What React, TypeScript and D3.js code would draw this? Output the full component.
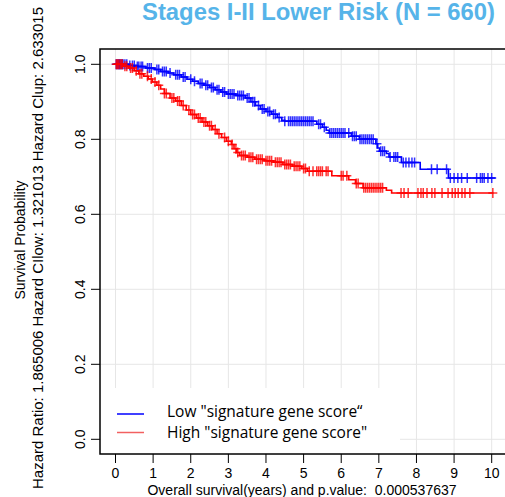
import * as d3 from "d3";

// Kaplan-Meier steps: time (years) and survival after the step
const lowTimes = [0, 0.35, 0.55, 0.8, 1.05, 1.2, 1.4, 1.55, 1.75, 1.9, 2.05, 2.2, 2.35, 2.5, 2.65, 2.8, 2.95, 3.2, 3.45, 3.6, 3.72, 3.85, 4.0, 4.15, 4.3, 4.42, 4.5, 5.35, 5.5, 5.6, 5.68, 6.27, 6.48, 6.92, 6.97, 7.02, 7.2, 7.27, 7.6, 8.1, 8.85];
const lowSurv = [1.0, 0.997, 0.994, 0.99, 0.986, 0.981, 0.977, 0.972, 0.966, 0.96, 0.955, 0.949, 0.944, 0.938, 0.932, 0.926, 0.921, 0.917, 0.91, 0.9, 0.89, 0.881, 0.874, 0.867, 0.858, 0.851, 0.848, 0.84, 0.832, 0.824, 0.817, 0.808, 0.8, 0.788, 0.777, 0.768, 0.762, 0.753, 0.738, 0.72, 0.697];
const lowEnd = 10.1;
const lowCensor = [0.02, 0.05, 0.08, 0.1, 0.12, 0.15, 0.18, 0.2, 0.25, 0.3, 0.38, 0.45, 0.5, 0.58, 0.62, 0.68, 0.72, 0.85, 0.9, 0.95, 1.1, 1.15, 1.25, 1.3, 1.35, 1.45, 1.6, 1.65, 1.7, 1.8, 1.85, 2.0, 2.1, 2.25, 2.3, 2.4, 2.45, 2.55, 2.6, 2.7, 2.75, 2.85, 2.9, 3.0, 3.05, 3.1, 3.15, 3.25, 3.3, 3.35, 3.4, 3.5, 3.55, 3.65, 3.7, 3.8, 3.9, 3.95, 4.05, 4.1, 4.2, 4.25, 4.35, 4.5, 4.6, 4.65, 4.7, 4.75, 4.8, 4.85, 4.9, 4.95, 5.0, 5.05, 5.1, 5.15, 5.2, 5.25, 5.4, 5.45, 5.55, 5.7, 5.75, 5.8, 5.85, 5.9, 5.95, 6.0, 6.05, 6.1, 6.2, 6.3, 6.35, 6.4, 6.5, 6.55, 6.6, 6.65, 6.7, 6.75, 6.8, 6.85, 6.95, 7.05, 7.1, 7.15, 7.3, 7.4, 7.45, 7.5, 7.65, 7.72, 7.8, 7.88, 7.95, 8.4, 8.55, 8.8, 8.9, 9.0, 9.1, 9.2, 9.35, 9.6, 9.7, 9.75, 9.8, 9.9, 10.0];

const highTimes = [0, 0.2, 0.35, 0.5, 0.62, 0.75, 0.87, 0.98, 1.1, 1.2, 1.3, 1.45, 1.6, 1.75, 1.88, 2.0, 2.15, 2.3, 2.45, 2.58, 2.7, 2.82, 2.95, 3.08, 3.15, 3.22, 3.3, 3.5, 3.7, 3.95, 4.2, 4.45, 4.7, 4.95, 5.1, 5.75, 6.2, 6.38, 6.58, 7.2, 7.34];
const highSurv = [1.0, 0.995, 0.99, 0.983, 0.975, 0.968, 0.961, 0.953, 0.944, 0.934, 0.922, 0.91, 0.902, 0.89, 0.878, 0.866, 0.857, 0.846, 0.836, 0.826, 0.815, 0.805, 0.795, 0.786, 0.775, 0.765, 0.757, 0.752, 0.747, 0.743, 0.739, 0.733, 0.728, 0.722, 0.715, 0.703, 0.692, 0.682, 0.671, 0.664, 0.657];
const highEnd = 10.05;
const highCensor = [0.02, 0.05, 0.08, 0.12, 0.15, 0.18, 0.25, 0.3, 0.4, 0.45, 0.55, 0.65, 0.7, 0.85, 0.95, 1.05, 1.15, 1.3, 1.35, 1.5, 1.55, 1.65, 1.7, 1.8, 1.95, 2.05, 2.1, 2.2, 2.25, 2.35, 2.4, 2.5, 2.55, 2.65, 2.75, 2.9, 3.0, 3.1, 3.2, 3.25, 3.35, 3.4, 3.45, 3.55, 3.6, 3.65, 3.75, 3.8, 3.85, 3.9, 4.0, 4.05, 4.1, 4.15, 4.25, 4.3, 4.35, 4.4, 4.5, 4.55, 4.6, 4.65, 4.75, 4.8, 4.85, 4.9, 5.0, 5.05, 5.15, 5.25, 5.35, 5.4, 5.45, 5.5, 5.6, 5.65, 6.0, 6.05, 6.15, 6.4, 6.45, 6.6, 6.65, 6.7, 6.75, 6.8, 6.85, 6.9, 6.95, 7.0, 7.05, 7.1, 7.59, 7.67, 7.78, 8.04, 8.12, 8.18, 8.28, 8.41, 8.49, 8.68, 8.84, 8.95, 9.03, 9.11, 9.21, 9.29, 9.42, 10.03];

const xTicks = [0, 1, 2, 3, 4, 5, 6, 7, 8, 9, 10];
const yTicks = [0, 0.2, 0.4, 0.6, 0.8, 1.0];
const legendLabels = ['Low "signature gene score\u201c', 'High "signature gene score"'];

const W = 505;
const H = 497;
const box = { left: 100, top: 49, right: 512, bottom: 454 };

export default function App() {
  const x = d3.scaleLinear().domain([0, 10]).range([115.5, 491.7]);
  const y = d3.scaleLinear().domain([0, 1]).range([439.3, 64.3]);

  const line = d3
    .line<[number, number]>()
    .x((d) => x(d[0]))
    .y((d) => y(d[1]))
    .curve(d3.curveStepAfter);

  const curve = (times: number[], surv: number[], end: number) => {
    const pts: [number, number][] = times.map((t, i) => [t, surv[i]]);
    pts.push([end, surv[surv.length - 1]]);
    return line(pts) ?? "";
  };

  const survAt = (times: number[], surv: number[], t: number) =>
    surv[Math.max(0, d3.bisectRight(times, t) - 1)];

  const marks = (times: number[], surv: number[], cens: number[], color: string) =>
    cens.map((t, i) => {
      const cx = x(t);
      const cy = y(survAt(times, surv, t));
      return (
        <path
          key={i}
          d={`M${cx - 4.5},${cy}H${cx + 4.5}M${cx},${cy - 5}V${cy + 5}`}
          stroke={color}
          strokeWidth={1.5}
          strokeOpacity={0.8}
          fill="none"
        />
      );
    });

  const axisFont = "Liberation Sans, Arial, sans-serif";

  return (
    <svg
      width={W}
      height={H}
      style={{ position: "absolute", left: 0, top: 0, background: "#fff" }}
    >
      <rect width={W} height={H} fill="#fff" />

      {/* grid */}
      <g stroke="#e6e6e6" strokeWidth={1}>
        {yTicks.map((t) => (
          <line key={"gy" + t} x1={box.left} x2={W} y1={y(t)} y2={y(t)} />
        ))}
        {xTicks.map((t) => (
          <line key={"gx" + t} x1={x(t)} x2={x(t)} y1={box.top} y2={box.bottom} />
        ))}
      </g>

      {/* curves */}
      <path d={curve(lowTimes, lowSurv, lowEnd)} fill="none" stroke="#0000ff" strokeWidth={1.6} />
      {marks(lowTimes, lowSurv, lowCensor, "#0000ff")}
      <path d={curve(highTimes, highSurv, highEnd)} fill="none" stroke="#ff0000" strokeWidth={1.6} />
      {marks(highTimes, highSurv, highCensor, "#ff0000")}

      {/* legend */}
      <rect x={box.left + 1} y={388} width={299} height={box.bottom - 389} fill="#fff" />
      <line x1={117} x2={144} y1={414} y2={414} stroke="#0000ff" strokeWidth={1.5} />
      <line x1={117} x2={144} y1={432.5} y2={432.5} stroke="#f26060" strokeWidth={1.5} />
      <g fontFamily="Open Sans, sans-serif" fontSize={15.5} fill="#000">
        <text x={167} y={417}>{legendLabels[0]}</text>
        <text x={167} y={438}>{legendLabels[1]}</text>
      </g>

      {/* box */}
      <rect
        x={box.left}
        y={box.top}
        width={box.right - box.left}
        height={box.bottom - box.top}
        fill="none"
        stroke="#000"
        strokeWidth={1.5}
      />

      {/* y axis */}
      <g fontFamily={axisFont} fontSize={14} fill="#000">
        {yTicks.map((t) => (
          <g key={"yt" + t}>
            <line x1={91} x2={box.left} y1={y(t)} y2={y(t)} stroke="#000" strokeWidth={1} />
            <text
              transform={`translate(85,${y(t)}) rotate(-90)`}
              textAnchor="middle"
            >
              {t.toFixed(1)}
            </text>
          </g>
        ))}
        <text transform="translate(25,240) rotate(-90)" textAnchor="middle">
          Survival Probability
        </text>
        <text transform="translate(43,248) rotate(-90)" textAnchor="middle" fontSize={15}>
          Hazard Ratio: 1.865006 Hazard CIlow: 1.321013 Hazard Clup: 2.633015
        </text>
      </g>

      {/* x axis */}
      <g fontFamily={axisFont} fontSize={14} fill="#000">
        {xTicks.map((t) => (
          <g key={"xt" + t}>
            <line x1={x(t)} x2={x(t)} y1={box.bottom} y2={463} stroke="#000" strokeWidth={1} />
            <text x={x(t)} y={478} textAnchor="middle">
              {t}
            </text>
          </g>
        ))}
        <text x={302} y={495} textAnchor="middle">
          <tspan>Overall survival(years) and p.value:</tspan>
          <tspan dx={4}> 0.000537637</tspan>
        </text>
      </g>

      {/* title */}
      <text
        x={495}
        y={20}
        textAnchor="end"
        fontFamily={axisFont}
        fontWeight="bold"
        fontSize={23}
        fill="#56b4e9"
        textLength={353}
        lengthAdjust="spacingAndGlyphs"
      >
        Stages I-II Lower Risk (N = 660)
      </text>
    </svg>
  );
}
